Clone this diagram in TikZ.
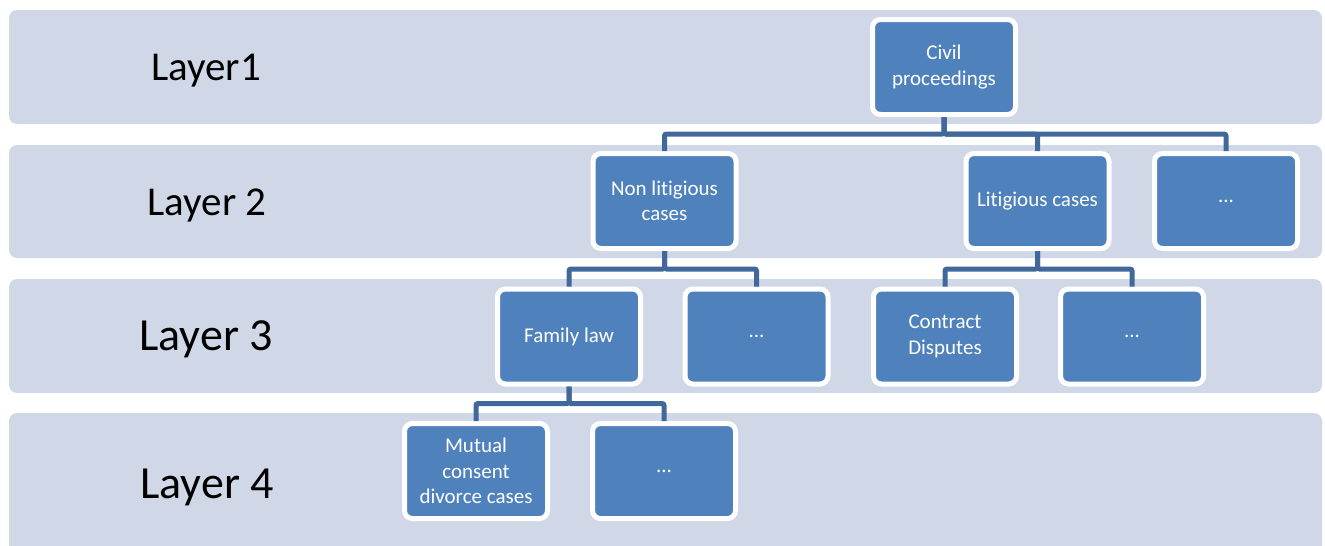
\documentclass[tikz,border=0pt]{standalone}
\usepackage{fontspec}
\setmainfont{Carlito}[Ligatures=NoCommon]
\definecolor{band}{RGB}{208,216,232}
\definecolor{boxblue}{RGB}{79,129,189}
\definecolor{linkblue}{RGB}{65,104,155}

\begin{document}
\begin{tikzpicture}[x=0.75pt,y=-0.75pt,
    layer/.style={fill=band,rounded corners=6pt},
    layername/.style={font=\fontsize{#1}{#1}\selectfont},
    box/.style={draw=white,line width=3.75pt,fill=boxblue,rounded corners=6pt,
        minimum width=107.25pt,minimum height=71.25pt,align=center,
        text=white,font=\fontsize{15.75}{19}\selectfont},
    link/.style={draw=linkblue,line width=3.75pt,rounded corners=1.5pt}]
    \clip (0,0) rectangle (1325,546);
    \foreach \y/\h in {10/114,145/113,279/114,413/150}
        \fill[layer] (9,\y) rectangle ++(1313,\h);
    \node[layername=30.75] (lay1) at (206,71) {Layer1};
    \node[layername=30.75] (lay2) at (207,205) {Layer 2};
    \node[layername=34.5] (lay3) at (206,339) {Layer 3};
    \node[layername=34.5] (lay4) at (207,487) {Layer 4};
    \node[box] (civil) at (944,67) {Civil\\proceedings};
    \node[box] (nonlit) at (664.5,201) {Non litigious\\cases};
    \node[box] (lit) at (1037.5,201) {Litigious cases};
    \node[box] (more2) at (1226,201) {...};
    \node[box] (family) at (569,336.5) {Family law};
    \node[box] (more3a) at (756.5,336.5) {...};
    \node[box] (contract) at (945,336.5) {Contract\\Disputes};
    \node[box] (more3b) at (1132,336.5) {...};
    \node[box] (mutual) at (476,471) {Mutual\\consent\\divorce cases};
    \node[box] (more4) at (664,471) {...};
    \foreach \c in {nonlit,lit,more2}
        \draw[link] (civil.south) -- ++(0,17) -| (\c.north);
    \foreach \c in {family,more3a}
        \draw[link] (nonlit.south) -- ++(0,18) -| (\c.north);
    \foreach \c in {contract,more3b}
        \draw[link] (lit.south) -- ++(0,18) -| (\c.north);
    \foreach \c in {mutual,more4}
        \draw[link] (family.south) -- ++(0,17) -| (\c.north);
\end{tikzpicture}
\end{document}
